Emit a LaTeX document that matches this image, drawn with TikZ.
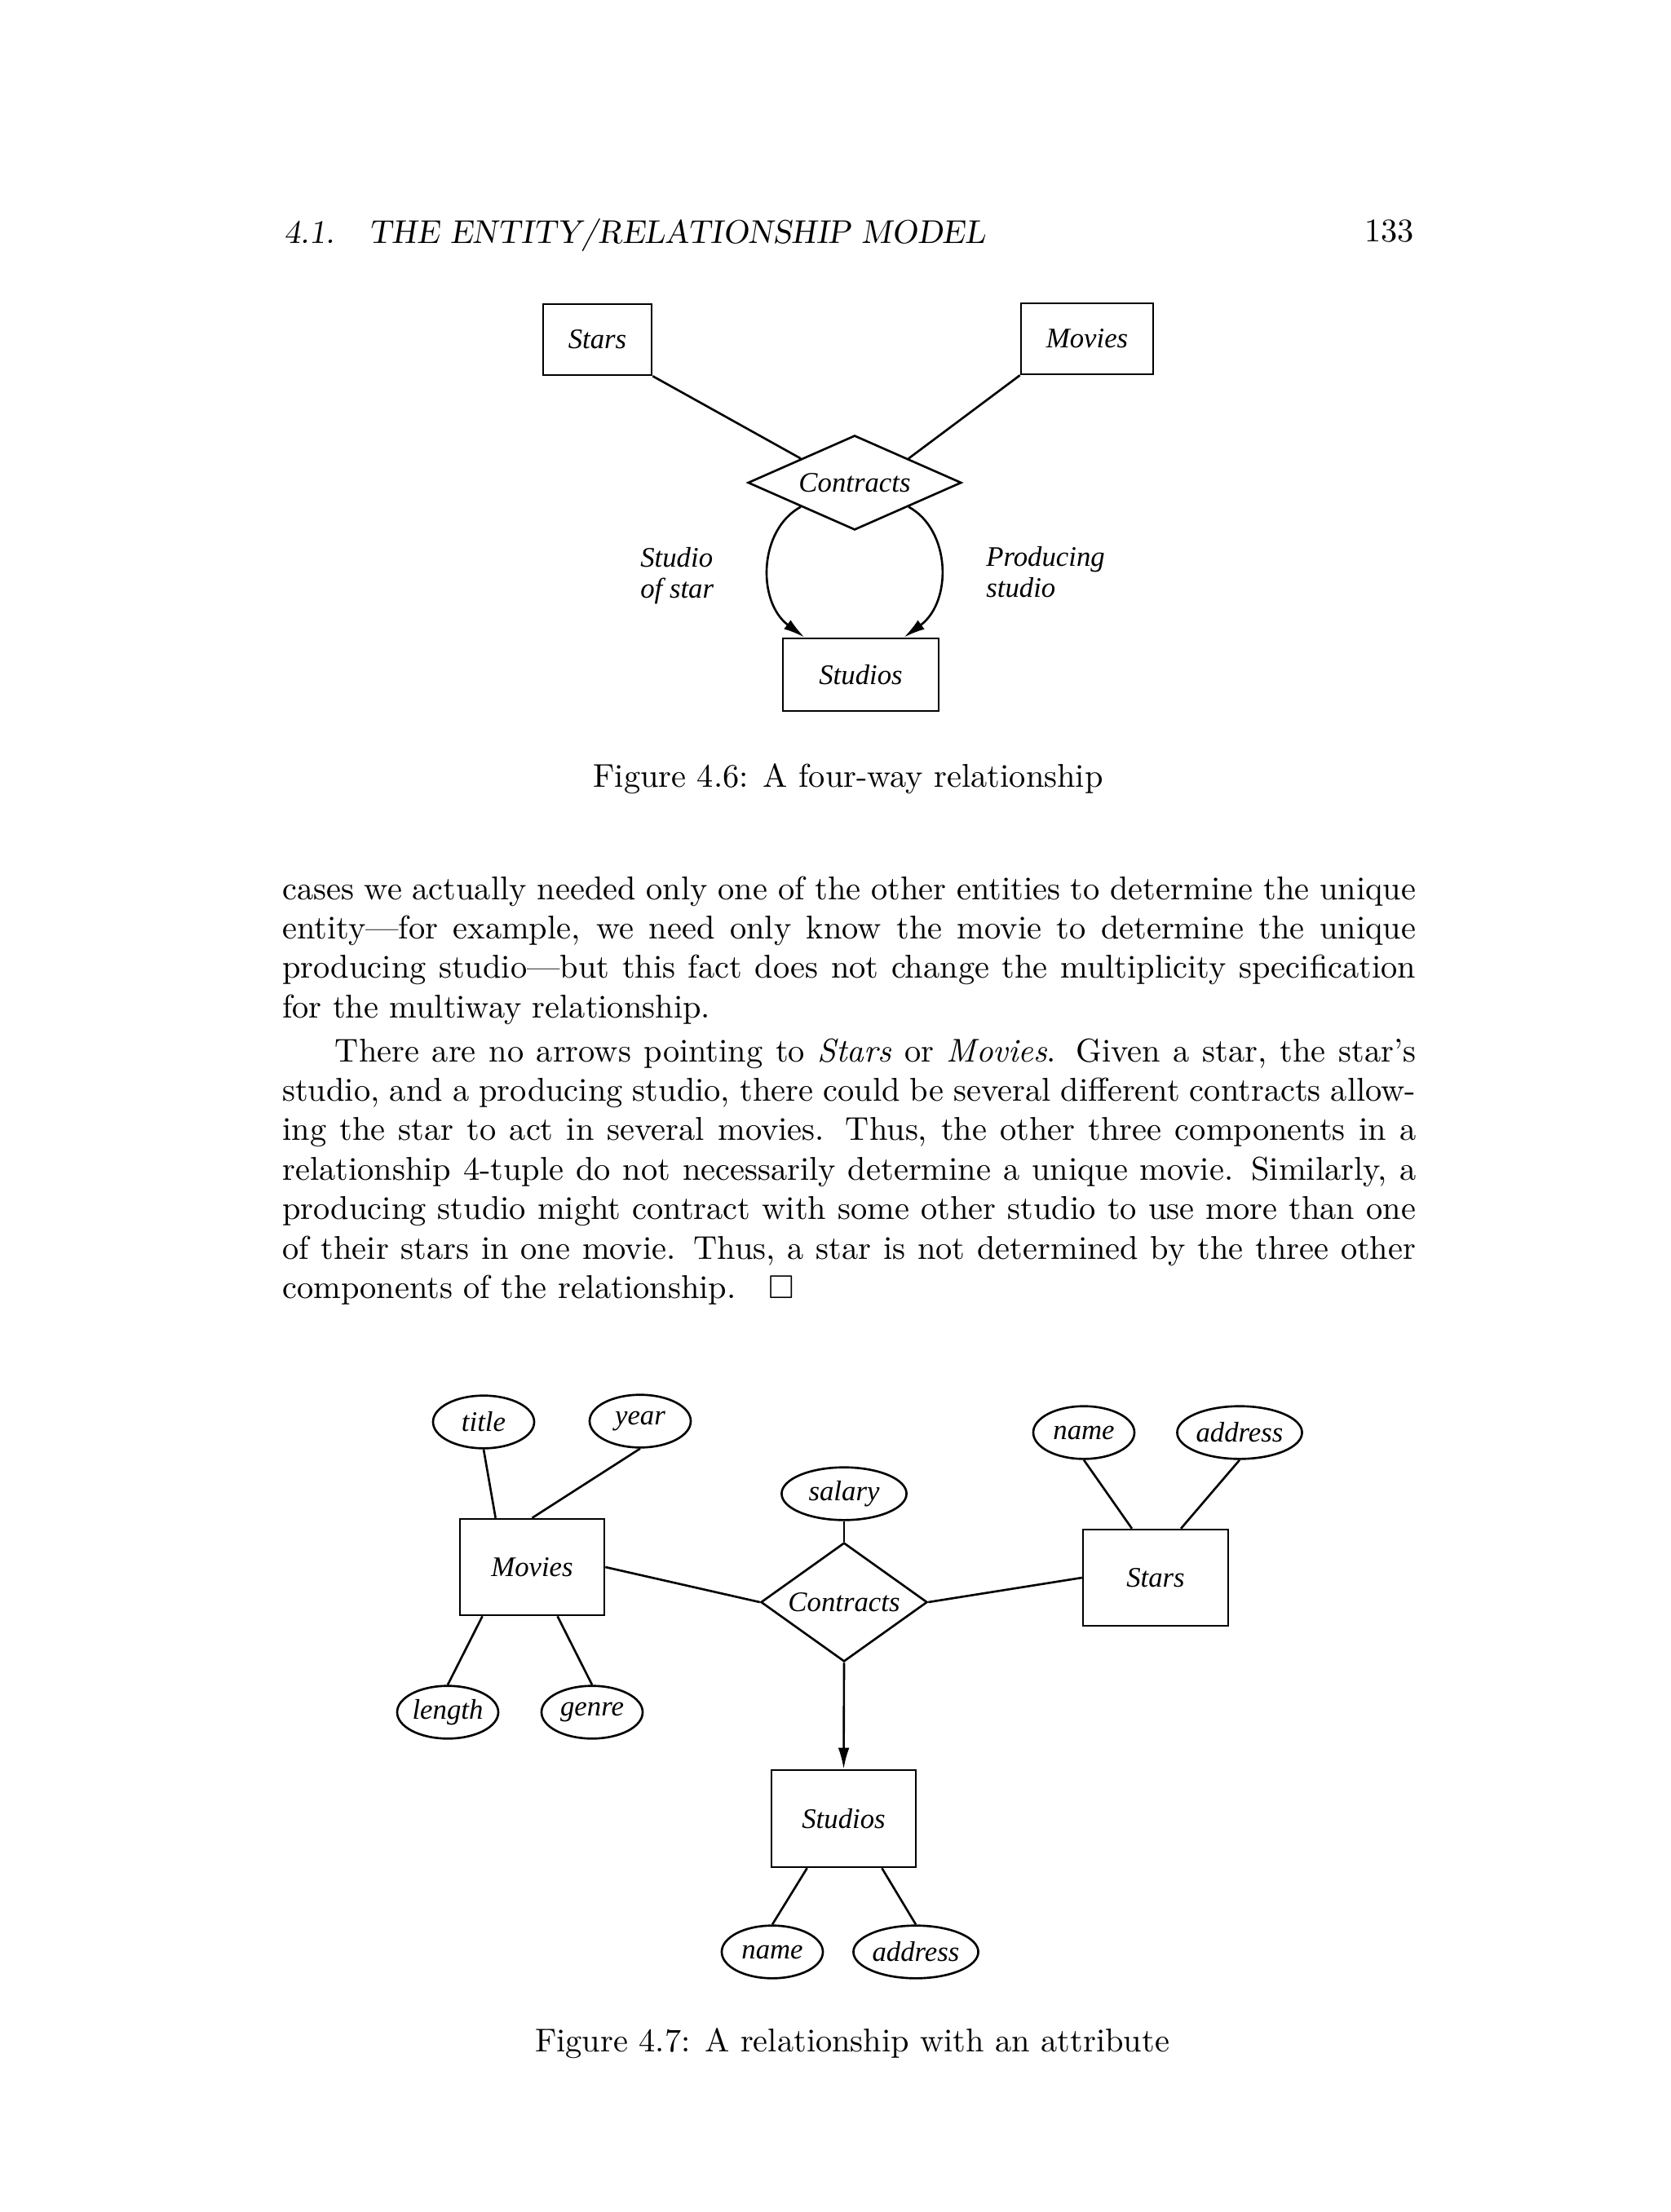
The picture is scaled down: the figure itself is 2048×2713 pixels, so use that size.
\documentclass[tikz,border=0pt]{standalone}
\usepackage{amssymb}
\usepackage{fontspec}
\newfontfamily\figfont{Liberation Serif}
\usepackage{tikz}
\usetikzlibrary{shapes.geometric, arrows.meta, positioning, calc}

\begin{document}
\begin{tikzpicture}[x=0.2475pt, y=-0.2475pt, line width=0.65pt,
    every node/.style={inner sep=0pt},
    ent/.style={rectangle, draw, text centered},
    rel/.style={diamond, draw, text centered},
    attr/.style={ellipse, draw, minimum width=30.7pt, minimum height=16pt},
    wideattr/.style={attr, minimum width=37.9pt},
    lbl/.style={font=\figfont\itshape\fontsize{8.6}{9.4}\selectfont, align=left},
    tlbl/.style={font=\figfont\itshape\fontsize{8.6}{10}\selectfont},
    body/.style={font=\fontsize{10}{12}\selectfont, text width=344pt, align=justify},
    capt/.style={font=\fontsize{10}{12}\selectfont},
    tip/.style={-{Latex[length=6.5pt, width=3.4pt]}}]
    \useasboundingbox (0,0) rectangle (2048,2713);

    % Running head
    \node (runhead) [capt, anchor=base west] at (347,299) {\slshape 4.1.\hspace{1em}THE ENTITY/RELATIONSHIP MODEL};
    \node (pageno) [capt, anchor=base east] at (1735,297) {133};

    % Figure 4.6
    \node (stars) [ent, lbl, minimum width=32.9pt, minimum height=21.5pt] at (732.5,416.5) {Stars};
    \node (movies) [ent, lbl, minimum width=40.1pt, minimum height=21.5pt] at (1333,415.5) {Movies};
    \node (contracts) [rel, lbl, aspect=2.26, minimum width=64.8pt, minimum height=28.7pt] at (1048,592) {Contracts};
    \node (studios) [ent, lbl, minimum width=47.3pt, minimum height=22pt] at (1055.5,827.5) {Studios};
    \node (ofstar) [lbl, anchor=base west] at (784,733) {Studio\\of star};
    \node (producing) [lbl, anchor=base west] at (1208,732) {Producing\\studio};

    \draw (stars.south east) -- (contracts.north west);
    \draw (movies.south west) -- (contracts.north east);
    \draw[tip] (contracts.south west) .. controls (930,650) and (928,738) .. ([xshift=6.9pt]studios.north west);
    \draw[tip] (contracts.south east) .. controls (1166,650) and (1168,738) .. ([xshift=-10.9pt]studios.north east);

    \node (cap46) [capt, anchor=base] at (1040,965) {Figure 4.6: A four-way relationship};

    % Text
    \node (para1) [body, anchor=base west] at (345,1103) {cases we actually needed only one of the other entities to determine the unique\linebreak
    entity---for example, we need only know the movie to determine the unique\linebreak
    producing studio---but this fact does not change the multiplicity specification\linebreak
    for the multiway relationship.};
    \node (para2) [body, anchor=base west] at (345,1302) {\hspace*{16pt}There are no arrows pointing to \textit{Stars} or \textit{Movies}. Given a star, the star's\linebreak
    studio, and a producing studio, there could be several different contracts allow-\linebreak
    ing the star to act in several movies. Thus, the other three components in a\linebreak
    relationship 4-tuple do not necessarily determine a unique movie. Similarly, a\linebreak
    producing studio might contract with some other studio to use more than one\linebreak
    of their stars in one movie. Thus, a star is not determined by the three other\linebreak
    components of the relationship.\quad$\square$};

    % Figure 4.7
    \node (movies2) [ent, tlbl, minimum width=43.8pt, minimum height=29.2pt] at (652.5,1922) {Movies};
    \node (stars2) [ent, tlbl, minimum width=44pt, minimum height=29.2pt] at (1417,1935) {Stars};
    \node (contracts2) [rel, tlbl, aspect=1.4, minimum width=50.5pt, minimum height=36.1pt] at (1035,1965) {Contracts};
    \node (studios2) [ent, tlbl, minimum width=43.8pt, minimum height=29.4pt] at (1034.5,2230.5) {Studios};

    \node (title) [attr, tlbl] at (593,1744) {title};
    \node (year) [attr, tlbl] at (785,1743) {year};
    \node (length) [attr, tlbl] at (549,2100) {length};
    \node (genre) [attr, tlbl] at (726,2100) {genre};
    \node (salary) [wideattr, tlbl] at (1035,1832) {salary};
    \node (starname) [attr, tlbl] at (1329,1757) {name};
    \node (staraddr) [wideattr, tlbl] at (1520,1757) {address};
    \node (studioname) [attr, tlbl] at (947,2394) {name};
    \node (studioaddr) [wideattr, tlbl] at (1123,2394) {address};

    \draw (title.south) -- ([xshift=-11.1pt]movies2.north);
    \draw (year.south) -- (movies2.north);
    \draw (length.north) -- ([xshift=-15.1pt]movies2.south);
    \draw (genre.north) -- ([xshift=7.7pt]movies2.south);
    \draw (salary.south) -- (contracts2.north);
    \draw (movies2.east) -- (contracts2.west);
    \draw (contracts2.east) -- (stars2.west);
    \draw (starname.south) -- ([xshift=-7.2pt]stars2.north);
    \draw (staraddr.south) -- ([xshift=7.7pt]stars2.north);
    \draw[tip] (contracts2.south) -- (studios2.north);
    \draw (studioname.north) -- ([xshift=-11.1pt]studios2.south);
    \draw (studioaddr.north) -- ([xshift=11.6pt]studios2.south);

    \node (cap47) [capt, anchor=base] at (1045,2516) {Figure 4.7: A relationship with an attribute};
\end{tikzpicture}
\end{document}
